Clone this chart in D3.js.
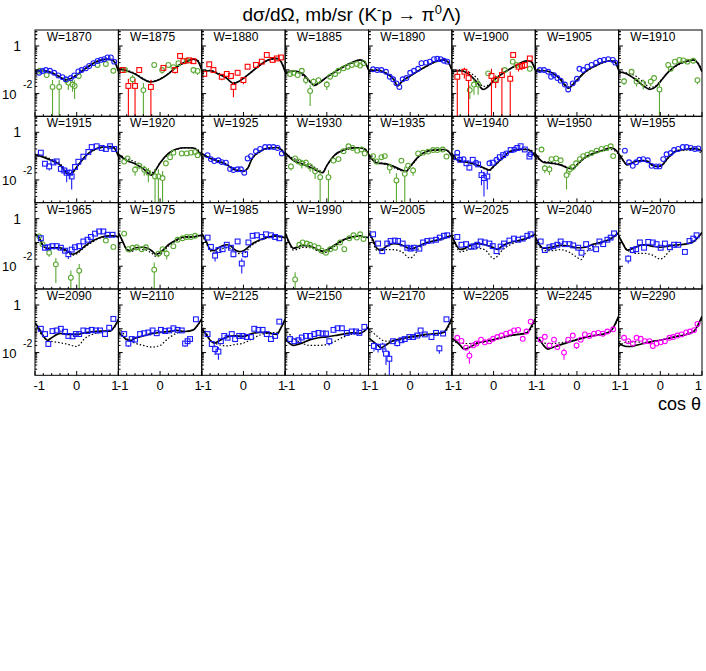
<!DOCTYPE html>
<html><head><meta charset="utf-8">
<script src="https://cdn.jsdelivr.net/npm/d3@7"></script>
<style>body{margin:0;background:#fff;} svg{display:block;font-family:"Liberation Sans",Arial,Helvetica,sans-serif;}</style>
</head><body><svg id="c" width="706" height="671"></svg>
<script>
const energies = [1870,1875,1880,1885,1890,1900,1905,1910,1915,1920,1925,1930,1935,1940,1950,1955,
                  1965,1975,1985,1990,2005,2025,2040,2070,2090,2110,2125,2150,2170,2205,2245,2290];
const xTickValues = [-1,-0.8,-0.6,-0.4,-0.2,0,0.2,0.4,0.6,0.8,1];
const xTickLabels = [[-1,"-1"],[0,"0"],[1,"1"]];
const yDomain = [0.00111, 4.7];

// solid curve (full model), [cos θ, dσ/dΩ mb/sr]
const solidCurves = {
1870:[[-1,0.083],[-0.8,0.091],[-0.6,0.075],[-0.4,0.049],[-0.28,0.037],[-0.15,0.042],[0,0.06],[0.2,0.11],[0.4,0.19],[0.6,0.26],[0.75,0.28],[0.85,0.26],[0.93,0.18],[1,0.088]],
1875:[[-1,0.115],[-0.8,0.091],[-0.6,0.067],[-0.4,0.04],[-0.25,0.031],[-0.1,0.034],[0,0.04],[0.2,0.067],[0.4,0.135],[0.6,0.21],[0.8,0.28],[0.9,0.24],[1,0.098]],
1880:[[-1,0.083],[-0.8,0.091],[-0.6,0.067],[-0.4,0.044],[-0.25,0.027],[-0.1,0.033],[0,0.044],[0.2,0.083],[0.4,0.16],[0.6,0.26],[0.8,0.3],[0.9,0.22],[1,0.083]],
1885:[[-1,0.071],[-0.9,0.083],[-0.8,0.091],[-0.6,0.071],[-0.4,0.032],[-0.3,0.022],[-0.2,0.027],[0,0.049],[0.2,0.083],[0.4,0.135],[0.6,0.2],[0.8,0.26],[0.9,0.22],[1,0.098]],
1890:[[-1,0.083],[-0.8,0.098],[-0.6,0.075],[-0.4,0.04],[-0.3,0.021],[-0.2,0.032],[0,0.055],[0.2,0.091],[0.4,0.145],[0.6,0.22],[0.8,0.26],[0.9,0.22],[1,0.098]],
1900:[[-1,0.083],[-0.8,0.091],[-0.6,0.067],[-0.4,0.03],[-0.25,0.015],[-0.1,0.022],[0,0.035],[0.2,0.067],[0.4,0.11],[0.6,0.175],[0.8,0.24],[0.9,0.22],[1,0.098]],
1905:[[-1,0.083],[-0.8,0.091],[-0.6,0.075],[-0.4,0.04],[-0.2,0.017],[-0.1,0.024],[0,0.037],[0.2,0.083],[0.4,0.135],[0.6,0.2],[0.8,0.24],[0.9,0.22],[1,0.098]],
1910:[[-1,0.083],[-0.8,0.067],[-0.6,0.04],[-0.4,0.021],[-0.25,0.015],[-0.1,0.02],[0,0.032],[0.2,0.083],[0.4,0.16],[0.6,0.22],[0.8,0.26],[0.9,0.19],[1,0.083]],
1915:[[-1,0.12],[-0.8,0.091],[-0.6,0.065],[-0.4,0.043],[-0.2,0.017],[-0.1,0.02],[0,0.034],[0.2,0.096],[0.4,0.18],[0.6,0.24],[0.8,0.25],[0.9,0.22],[1,0.1]],
1920:[[-1,0.12],[-0.8,0.065],[-0.6,0.048],[-0.4,0.029],[-0.2,0.016],[-0.1,0.027],[0,0.051],[0.2,0.13],[0.4,0.2],[0.6,0.225],[0.8,0.22],[0.9,0.17],[1,0.1]],
1925:[[-1,0.13],[-0.8,0.082],[-0.6,0.06],[-0.4,0.043],[-0.2,0.026],[0,0.023],[0.1,0.03],[0.2,0.075],[0.4,0.16],[0.6,0.22],[0.8,0.23],[0.9,0.19],[1,0.11]],
1930:[[-1,0.14],[-0.8,0.065],[-0.6,0.048],[-0.4,0.034],[-0.2,0.023],[-0.1,0.02],[0,0.04],[0.2,0.115],[0.4,0.18],[0.6,0.22],[0.8,0.22],[0.9,0.2],[1,0.13]],
1935:[[-1,0.12],[-0.9,0.07],[-0.8,0.051],[-0.6,0.048],[-0.4,0.037],[-0.2,0.026],[-0.1,0.023],[0,0.037],[0.2,0.096],[0.4,0.16],[0.6,0.18],[0.8,0.19],[0.9,0.17],[1,0.096]],
1940:[[-1,0.13],[-0.9,0.075],[-0.8,0.06],[-0.6,0.055],[-0.4,0.043],[-0.2,0.03],[-0.1,0.026],[0,0.037],[0.2,0.08],[0.4,0.16],[0.6,0.19],[0.8,0.19],[0.9,0.16],[1,0.096]],
1950:[[-1,0.13],[-0.9,0.075],[-0.8,0.055],[-0.6,0.05],[-0.4,0.043],[-0.2,0.031],[-0.1,0.029],[0,0.043],[0.2,0.09],[0.4,0.13],[0.6,0.17],[0.8,0.22],[0.9,0.2],[1,0.13]],
1955:[[-1,0.13],[-0.9,0.07],[-0.8,0.043],[-0.7,0.05],[-0.6,0.06],[-0.4,0.065],[-0.3,0.06],[-0.2,0.042],[-0.1,0.037],[0,0.038],[0.2,0.09],[0.4,0.17],[0.6,0.19],[0.8,0.21],[0.9,0.2],[1,0.16]],
1965:[[-1,0.235],[-0.9,0.16],[-0.8,0.071],[-0.7,0.057],[-0.6,0.06],[-0.4,0.06],[-0.2,0.041],[-0.1,0.032],[0,0.037],[0.2,0.071],[0.4,0.12],[0.6,0.17],[0.8,0.19],[0.9,0.19],[1,0.17]],
1975:[[-1,0.26],[-0.9,0.115],[-0.8,0.051],[-0.7,0.045],[-0.6,0.06],[-0.4,0.063],[-0.2,0.045],[-0.1,0.032],[0,0.037],[0.2,0.08],[0.4,0.13],[0.6,0.17],[0.8,0.17],[0.9,0.19],[1,0.2]],
1985:[[-1,0.235],[-0.9,0.12],[-0.8,0.051],[-0.7,0.045],[-0.6,0.06],[-0.4,0.08],[-0.3,0.07],[-0.2,0.048],[-0.1,0.041],[0,0.045],[0.2,0.085],[0.4,0.13],[0.6,0.17],[0.8,0.19],[0.9,0.17],[1,0.16]],
1990:[[-1,0.26],[-0.9,0.098],[-0.8,0.057],[-0.7,0.063],[-0.6,0.075],[-0.4,0.07],[-0.2,0.048],[-0.1,0.043],[0,0.048],[0.2,0.08],[0.4,0.13],[0.6,0.17],[0.8,0.19],[0.9,0.17],[1,0.16]],
2005:[[-1,0.26],[-0.9,0.135],[-0.8,0.057],[-0.7,0.047],[-0.6,0.063],[-0.4,0.089],[-0.2,0.078],[0,0.055],[0.1,0.058],[0.2,0.07],[0.4,0.1],[0.6,0.12],[0.8,0.15],[1,0.2]],
2025:[[-1,0.19],[-0.9,0.08],[-0.8,0.051],[-0.7,0.055],[-0.6,0.07],[-0.4,0.09],[-0.2,0.08],[0,0.06],[0.1,0.051],[0.2,0.07],[0.4,0.1],[0.6,0.12],[0.8,0.15],[1,0.22]],
2040:[[-1,0.17],[-0.9,0.08],[-0.8,0.057],[-0.6,0.063],[-0.4,0.075],[-0.2,0.07],[0,0.06],[0.2,0.063],[0.4,0.085],[0.6,0.105],[0.8,0.14],[1,0.26]],
2070:[[-1,0.19],[-0.9,0.09],[-0.8,0.048],[-0.7,0.052],[-0.6,0.063],[-0.4,0.08],[-0.2,0.07],[0,0.063],[0.2,0.07],[0.4,0.08],[0.6,0.085],[0.8,0.11],[0.9,0.16],[1,0.26]],
2090:[[-1,0.18],[-0.9,0.1],[-0.8,0.049],[-0.7,0.033],[-0.6,0.042],[-0.4,0.064],[-0.2,0.058],[0,0.058],[0.2,0.068],[0.4,0.077],[0.6,0.08],[0.8,0.08],[0.9,0.12],[1,0.25]],
2110:[[-1,0.068],[-0.9,0.05],[-0.8,0.035],[-0.7,0.033],[-0.6,0.04],[-0.4,0.05],[-0.2,0.063],[0,0.07],[0.2,0.077],[0.4,0.085],[0.6,0.077],[0.8,0.09],[0.9,0.14],[1,0.26]],
2125:[[-1,0.1],[-0.9,0.06],[-0.8,0.033],[-0.7,0.025],[-0.6,0.03],[-0.4,0.045],[-0.2,0.05],[0,0.048],[0.2,0.063],[0.4,0.07],[0.6,0.067],[0.8,0.058],[0.9,0.11],[1,0.25]],
2150:[[-1,0.038],[-0.9,0.025],[-0.8,0.02],[-0.7,0.022],[-0.6,0.025],[-0.4,0.035],[-0.2,0.042],[0,0.046],[0.2,0.052],[0.4,0.06],[0.6,0.067],[0.8,0.064],[0.9,0.08],[1,0.12]],
2170:[[-1,0.042],[-0.9,0.03],[-0.8,0.022],[-0.7,0.016],[-0.6,0.02],[-0.4,0.032],[-0.2,0.038],[0,0.046],[0.2,0.052],[0.4,0.058],[0.6,0.062],[0.8,0.07],[0.9,0.12],[1,0.29]],
2205:[[-1,0.038],[-0.9,0.03],[-0.8,0.02],[-0.7,0.014],[-0.6,0.016],[-0.4,0.024],[-0.2,0.03],[0,0.035],[0.2,0.043],[0.4,0.052],[0.6,0.058],[0.8,0.067],[0.9,0.12],[1,0.26]],
2245:[[-1,0.046],[-0.9,0.035],[-0.8,0.02],[-0.7,0.014],[-0.6,0.016],[-0.4,0.021],[-0.2,0.027],[0,0.035],[0.2,0.043],[0.4,0.052],[0.6,0.058],[0.8,0.077],[0.9,0.14],[1,0.33]],
2290:[[-1,0.026],[-0.9,0.02],[-0.8,0.018],[-0.7,0.018],[-0.6,0.02],[-0.4,0.024],[-0.2,0.029],[0,0.033],[0.2,0.04],[0.4,0.048],[0.6,0.056],[0.8,0.077],[0.9,0.14],[1,0.33]]
};

// dotted curve (alternative solution)
const dottedCurves = {
1870:[[-1,0.09],[-0.8,0.095],[-0.6,0.078],[-0.4,0.052],[-0.28,0.04],[-0.15,0.044],[0,0.062],[0.2,0.11],[0.4,0.18],[0.6,0.25],[0.75,0.27],[0.85,0.26],[0.93,0.19],[1,0.1]],
1875:[[-1,0.1],[-0.8,0.095],[-0.6,0.07],[-0.4,0.043],[-0.25,0.033],[-0.1,0.036],[0,0.042],[0.2,0.07],[0.4,0.13],[0.6,0.2],[0.8,0.27],[0.9,0.25],[1,0.12]],
1880:[[-1,0.09],[-0.8,0.095],[-0.6,0.072],[-0.4,0.046],[-0.25,0.029],[-0.1,0.034],[0,0.045],[0.2,0.082],[0.4,0.155],[0.6,0.25],[0.8,0.29],[0.9,0.23],[1,0.1]],
1885:[[-1,0.08],[-0.9,0.088],[-0.8,0.085],[-0.6,0.06],[-0.4,0.03],[-0.3,0.023],[-0.2,0.028],[0,0.05],[0.2,0.085],[0.4,0.13],[0.6,0.19],[0.8,0.25],[0.9,0.22],[1,0.11]],
1890:[[-1,0.09],[-0.8,0.1],[-0.6,0.078],[-0.4,0.042],[-0.3,0.023],[-0.2,0.033],[0,0.056],[0.2,0.09],[0.4,0.14],[0.6,0.21],[0.8,0.25],[0.9,0.22],[1,0.11]],
1900:[[-1,0.09],[-0.8,0.1],[-0.6,0.08],[-0.4,0.045],[-0.25,0.02],[-0.1,0.024],[0,0.036],[0.2,0.067],[0.4,0.11],[0.6,0.17],[0.8,0.23],[0.9,0.22],[1,0.11]],
1905:[[-1,0.09],[-0.8,0.095],[-0.6,0.078],[-0.4,0.043],[-0.2,0.019],[-0.1,0.025],[0,0.038],[0.2,0.08],[0.4,0.13],[0.6,0.19],[0.8,0.23],[0.9,0.22],[1,0.11]],
1910:[[-1,0.083],[-0.8,0.075],[-0.6,0.055],[-0.4,0.03],[-0.25,0.018],[-0.1,0.022],[0,0.034],[0.2,0.08],[0.4,0.15],[0.6,0.21],[0.8,0.25],[0.9,0.2],[1,0.1]],
1915:[[-1,0.11],[-0.8,0.1],[-0.6,0.072],[-0.4,0.048],[-0.2,0.02],[-0.1,0.022],[0,0.036],[0.2,0.095],[0.4,0.17],[0.6,0.23],[0.8,0.25],[0.9,0.22],[1,0.11]],
1920:[[-1,0.11],[-0.8,0.08],[-0.6,0.058],[-0.4,0.037],[-0.2,0.02],[-0.1,0.03],[0,0.052],[0.2,0.12],[0.4,0.19],[0.6,0.22],[0.8,0.22],[0.9,0.19],[1,0.13]],
1925:[[-1,0.12],[-0.8,0.088],[-0.6,0.065],[-0.4,0.046],[-0.2,0.028],[0,0.024],[0.1,0.031],[0.2,0.072],[0.4,0.15],[0.6,0.21],[0.8,0.23],[0.9,0.2],[1,0.13]],
1930:[[-1,0.13],[-0.8,0.08],[-0.6,0.06],[-0.4,0.042],[-0.2,0.027],[-0.1,0.022],[0,0.04],[0.2,0.11],[0.4,0.17],[0.6,0.21],[0.8,0.22],[0.9,0.21],[1,0.16]],
1935:[[-1,0.1],[-0.9,0.075],[-0.8,0.06],[-0.6,0.045],[-0.4,0.033],[-0.2,0.024],[-0.1,0.022],[0,0.034],[0.2,0.09],[0.4,0.15],[0.6,0.18],[0.8,0.18],[0.9,0.16],[1,0.12]],
1940:[[-1,0.12],[-0.9,0.08],[-0.8,0.065],[-0.6,0.052],[-0.4,0.04],[-0.2,0.028],[-0.1,0.025],[0,0.035],[0.2,0.075],[0.4,0.15],[0.6,0.19],[0.8,0.2],[0.9,0.18],[1,0.12]],
1950:[[-1,0.1],[-0.9,0.07],[-0.8,0.06],[-0.6,0.055],[-0.4,0.045],[-0.2,0.033],[-0.1,0.03],[0,0.042],[0.2,0.085],[0.4,0.13],[0.6,0.16],[0.8,0.19],[0.9,0.17],[1,0.12]],
1955:[[-1,0.12],[-0.9,0.068],[-0.8,0.045],[-0.7,0.05],[-0.6,0.058],[-0.4,0.062],[-0.3,0.057],[-0.2,0.042],[-0.1,0.036],[0,0.037],[0.2,0.085],[0.4,0.16],[0.6,0.18],[0.8,0.19],[0.9,0.17],[1,0.13]],
1965:[[-1,0.2],[-0.9,0.14],[-0.8,0.07],[-0.7,0.055],[-0.6,0.055],[-0.4,0.052],[-0.2,0.036],[-0.1,0.029],[0,0.033],[0.2,0.065],[0.4,0.11],[0.6,0.16],[0.8,0.18],[0.9,0.18],[1,0.17]],
1975:[[-1,0.24],[-0.9,0.11],[-0.8,0.05],[-0.7,0.04],[-0.6,0.05],[-0.4,0.05],[-0.2,0.035],[-0.1,0.026],[0,0.03],[0.2,0.07],[0.4,0.12],[0.6,0.16],[0.8,0.17],[0.9,0.18],[1,0.2]],
1985:[[-1,0.2],[-0.9,0.1],[-0.8,0.045],[-0.7,0.036],[-0.6,0.045],[-0.4,0.06],[-0.3,0.055],[-0.2,0.04],[-0.1,0.034],[0,0.035],[0.2,0.075],[0.4,0.12],[0.6,0.16],[0.8,0.18],[0.9,0.17],[1,0.17]],
1990:[[-1,0.24],[-0.9,0.09],[-0.8,0.048],[-0.7,0.052],[-0.6,0.062],[-0.4,0.06],[-0.2,0.042],[-0.1,0.035],[0,0.04],[0.2,0.072],[0.4,0.12],[0.6,0.16],[0.8,0.18],[0.9,0.17],[1,0.16]],
2005:[[-1,0.24],[-0.9,0.11],[-0.8,0.046],[-0.7,0.045],[-0.6,0.05],[-0.4,0.05],[-0.2,0.04],[0,0.022],[0.1,0.03],[0.2,0.055],[0.4,0.09],[0.6,0.115],[0.8,0.14],[1,0.19]],
2025:[[-1,0.19],[-0.9,0.07],[-0.8,0.04],[-0.6,0.05],[-0.4,0.058],[-0.2,0.048],[0,0.021],[0.1,0.027],[0.2,0.045],[0.4,0.08],[0.6,0.11],[0.8,0.14],[1,0.2]],
2040:[[-1,0.17],[-0.9,0.07],[-0.8,0.045],[-0.6,0.045],[-0.4,0.05],[-0.2,0.04],[0,0.024],[0.1,0.019],[0.2,0.035],[0.4,0.07],[0.6,0.1],[0.8,0.13],[1,0.25]],
2070:[[-1,0.19],[-0.9,0.09],[-0.8,0.05],[-0.6,0.035],[-0.4,0.035],[-0.2,0.03],[0,0.02],[0.1,0.025],[0.2,0.04],[0.4,0.07],[0.6,0.085],[0.8,0.11],[0.9,0.16],[1,0.26]],
2090:[[-1,0.16],[-0.9,0.08],[-0.8,0.045],[-0.6,0.03],[-0.4,0.026],[-0.2,0.022],[0,0.018],[0.2,0.04],[0.4,0.06],[0.6,0.075],[0.8,0.085],[0.9,0.11],[1,0.22]],
2110:[[-1,0.11],[-0.9,0.07],[-0.8,0.04],[-0.6,0.025],[-0.4,0.02],[-0.2,0.017],[0,0.02],[0.2,0.04],[0.4,0.065],[0.6,0.077],[0.8,0.09],[0.9,0.14],[1,0.26]],
2125:[[-1,0.15],[-0.9,0.07],[-0.8,0.035],[-0.6,0.022],[-0.4,0.019],[-0.2,0.022],[0,0.025],[0.2,0.037],[0.4,0.055],[0.6,0.067],[0.8,0.07],[0.9,0.11],[1,0.22]],
2150:[[-1,0.1],[-0.9,0.06],[-0.8,0.04],[-0.6,0.025],[-0.4,0.02],[-0.2,0.02],[0,0.022],[0.2,0.03],[0.4,0.045],[0.6,0.06],[0.8,0.065],[0.9,0.08],[1,0.12]],
2170:[[-1,0.1],[-0.9,0.07],[-0.8,0.05],[-0.6,0.03],[-0.4,0.03],[-0.2,0.035],[0,0.042],[0.2,0.048],[0.4,0.055],[0.6,0.06],[0.8,0.068],[0.9,0.1],[1,0.25]],
2205:[[-1,0.03],[-0.8,0.025],[-0.6,0.024],[-0.4,0.026],[-0.2,0.028],[0,0.032],[0.2,0.04],[0.4,0.05],[0.6,0.06],[0.8,0.07],[0.9,0.1],[1,0.2]],
2245:[[-1,0.04],[-0.8,0.025],[-0.6,0.024],[-0.4,0.026],[-0.2,0.03],[0,0.036],[0.2,0.043],[0.4,0.05],[0.6,0.058],[0.8,0.075],[0.9,0.13],[1,0.3]],
2290:[[-1,0.018],[-0.9,0.024],[-0.8,0.028],[-0.6,0.028],[-0.4,0.027],[-0.2,0.029],[0,0.033],[0.2,0.04],[0.4,0.048],[0.6,0.058],[0.8,0.075],[0.9,0.12],[1,0.28]]
};

// data points: [cos θ, dσ/dΩ, error]
const blueCircles = {
1870:[[-0.9,0.075,0.008],[-0.82,0.089,0.008],[-0.74,0.098,0.008],[-0.64,0.091,0.008],[-0.54,0.075,0.008],[-0.44,0.058,0.007],[-0.34,0.049,0.006],[-0.26,0.04,0.005],[-0.14,0.045,0.005],[-0.06,0.058,0.006],[0.04,0.086,0.008],[0.12,0.098,0.008],[0.22,0.115,0.01],[0.3,0.145,0.01],[0.4,0.19,0.012],[0.5,0.235,0.015],[0.58,0.26,0.015],[0.66,0.28,0.015],[0.74,0.33,0.02],[0.82,0.33,0.02],[0.9,0.22,0.02]],
1890:[[-0.89,0.105,0.008],[-0.79,0.098,0.008],[-0.69,0.098,0.008],[-0.58,0.083,0.008],[-0.49,0.051,0.006],[-0.41,0.04,0.005],[-0.33,0.027,0.004],[-0.26,0.019,0.004],[-0.18,0.04,0.005],[-0.09,0.045,0.005],[0,0.075,0.007],[0.09,0.091,0.008],[0.19,0.11,0.01],[0.27,0.19,0.012],[0.38,0.2,0.012],[0.47,0.22,0.013],[0.57,0.28,0.015],[0.65,0.29,0.015],[0.73,0.28,0.015],[0.81,0.24,0.015],[0.89,0.22,0.015]],
1905:[[-0.89,0.098,0.008],[-0.79,0.098,0.008],[-0.69,0.083,0.008],[-0.62,0.051,0.006],[-0.55,0.06,0.006],[-0.47,0.045,0.005],[-0.39,0.035,0.005],[-0.29,0.024,0.004],[-0.21,0.015,0.004],[-0.1,0.027,0.004],[0,0.042,0.005],[0.06,0.11,0.009],[0.15,0.098,0.008],[0.25,0.135,0.01],[0.35,0.16,0.01],[0.46,0.2,0.012],[0.55,0.24,0.013],[0.65,0.26,0.014],[0.75,0.28,0.015],[0.86,0.26,0.015],[0.92,0.2,0.014]],
1925:[[-0.86,0.11,0.008],[-0.78,0.075,0.007],[-0.7,0.062,0.006],[-0.6,0.067,0.006],[-0.52,0.056,0.006],[-0.42,0.053,0.006],[-0.32,0.029,0.004],[-0.24,0.026,0.004],[-0.14,0.028,0.004],[-0.06,0.028,0.004],[0.02,0.02,0.004],[0.1,0.08,0.007],[0.18,0.1,0.008],[0.3,0.16,0.01],[0.4,0.2,0.012],[0.52,0.24,0.013],[0.62,0.24,0.013],[0.72,0.24,0.013],[0.82,0.22,0.013],[0.92,0.13,0.01]],
1940:[[-0.87,0.14,0.015],[-0.72,0.075,0.01],[-0.42,0.053,0.01],[-0.1,0.05,0.01],[0.07,0.07,0.01],[0.3,0.13,0.015],[0.5,0.19,0.015],[0.88,0.12,0.015]],
1955:[[-0.85,0.17,0.01],[-0.75,0.055,0.006],[-0.66,0.039,0.005],[-0.58,0.055,0.006],[-0.5,0.07,0.006],[-0.41,0.075,0.006],[-0.3,0.067,0.006],[-0.21,0.039,0.005],[-0.1,0.037,0.005],[-0.02,0.037,0.005],[0.07,0.075,0.007],[0.15,0.12,0.009],[0.25,0.135,0.01],[0.33,0.18,0.011],[0.43,0.2,0.012],[0.54,0.24,0.013],[0.63,0.24,0.013],[0.73,0.22,0.013],[0.83,0.2,0.012],[0.91,0.21,0.013]]
};
const blueSquares = {
1915:[[-0.86,0.14,0.015],[-0.76,0.048,0.01],[-0.66,0.037,0.012],[-0.56,0.054,0.01],[-0.48,0.06,0.01],[-0.38,0.029,0.008],[-0.3,0.025,0.008],[-0.24,0.02,0.012],[-0.16,0.02,0.008],[-0.12,0.014,0.01],[-0.04,0.035,0.008],[0.04,0.058,0.01],[0.16,0.095,0.012],[0.28,0.15,0.015],[0.36,0.24,0.02],[0.48,0.26,0.02],[0.6,0.22,0.02],[0.7,0.2,0.02],[0.8,0.26,0.02],[0.9,0.2,0.02]],
1940:[[-0.88,0.09,0.012],[-0.8,0.07,0.01],[-0.65,0.05,0.01],[-0.58,0.033,0.008],[-0.5,0.07,0.01],[-0.37,0.045,0.008],[-0.29,0.016,0.01],[-0.23,0.012,0.01],[-0.15,0.014,0.01],[-0.02,0.053,0.01],[0.15,0.09,0.012],[0.23,0.11,0.012],[0.41,0.18,0.015],[0.57,0.22,0.02],[0.65,0.26,0.02],[0.75,0.19,0.015],[0.86,0.096,0.015]],
1965:[[-0.86,0.15,0.015],[-0.76,0.06,0.008],[-0.68,0.063,0.008],[-0.58,0.07,0.008],[-0.48,0.07,0.008],[-0.38,0.06,0.008],[-0.28,0.045,0.007],[-0.2,0.032,0.012],[-0.12,0.05,0.008],[-0.04,0.063,0.008],[0.06,0.07,0.008],[0.16,0.11,0.01],[0.26,0.13,0.01],[0.34,0.17,0.012],[0.44,0.235,0.015],[0.54,0.29,0.018],[0.64,0.29,0.018],[0.74,0.21,0.015],[0.86,0.21,0.015]],
1985:[[-0.86,0.16,0.015],[-0.78,0.065,0.01],[-0.68,0.028,0.012],[-0.6,0.048,0.01],[-0.5,0.052,0.01],[-0.4,0.08,0.01],[-0.3,0.06,0.01],[-0.24,0.032,0.008],[-0.14,0.11,0.012],[-0.04,0.013,0.008],[0.04,0.032,0.01],[0.12,0.1,0.012],[0.22,0.19,0.015],[0.32,0.2,0.015],[0.44,0.17,0.015],[0.54,0.22,0.015],[0.66,0.2,0.015],[0.76,0.17,0.015],[0.86,0.15,0.015]],
2005:[[-0.89,0.22,0.02],[-0.77,0.09,0.01],[-0.67,0.043,0.006],[-0.55,0.09,0.01],[-0.47,0.115,0.01],[-0.37,0.12,0.01],[-0.29,0.115,0.01],[-0.18,0.09,0.009],[-0.07,0.06,0.007],[0.01,0.055,0.007],[0.09,0.06,0.007],[0.22,0.055,0.007],[0.31,0.1,0.01],[0.41,0.115,0.01],[0.51,0.12,0.01],[0.62,0.13,0.01],[0.71,0.16,0.012],[0.81,0.19,0.014],[0.89,0.2,0.015]],
2025:[[-0.87,0.17,0.015],[-0.77,0.08,0.008],[-0.66,0.085,0.008],[-0.55,0.067,0.007],[-0.47,0.067,0.007],[-0.39,0.08,0.008],[-0.31,0.11,0.01],[-0.21,0.1,0.009],[-0.1,0.09,0.009],[-0.02,0.07,0.008],[0.07,0.043,0.006],[0.17,0.067,0.007],[0.25,0.09,0.009],[0.38,0.12,0.01],[0.49,0.145,0.012],[0.59,0.13,0.011],[0.7,0.145,0.012],[0.81,0.19,0.014],[0.89,0.22,0.016]],
2040:[[-0.87,0.11,0.01],[-0.77,0.048,0.006],[-0.66,0.063,0.007],[-0.57,0.07,0.007],[-0.47,0.08,0.008],[-0.39,0.11,0.01],[-0.29,0.085,0.008],[-0.18,0.085,0.008],[-0.09,0.075,0.008],[0.03,0.06,0.007],[0.11,0.037,0.008],[0.22,0.085,0.008],[0.33,0.06,0.007],[0.46,0.052,0.007],[0.54,0.11,0.01],[0.63,0.085,0.008],[0.73,0.13,0.011],[0.81,0.16,0.013],[0.89,0.24,0.018]],
2070:[[-0.77,0.021,0.008],[-0.66,0.048,0.008],[-0.58,0.052,0.007],[-0.49,0.1,0.009],[-0.39,0.06,0.008],[-0.29,0.105,0.01],[-0.18,0.1,0.009],[-0.09,0.085,0.008],[0.01,0.06,0.007],[0.11,0.09,0.009],[0.23,0.063,0.007],[0.33,0.08,0.008],[0.43,0.08,0.008],[0.59,0.04,0.008],[0.7,0.115,0.01],[0.79,0.145,0.012],[0.87,0.2,0.015]],
2090:[[-0.86,0.1,0.01],[-0.76,0.06,0.008],[-0.68,0.023,0.006],[-0.58,0.08,0.008],[-0.48,0.085,0.008],[-0.38,0.1,0.009],[-0.28,0.075,0.008],[-0.2,0.05,0.007],[-0.1,0.048,0.007],[-0.02,0.06,0.007],[0.06,0.06,0.007],[0.16,0.085,0.008],[0.26,0.08,0.008],[0.36,0.09,0.009],[0.46,0.085,0.008],[0.56,0.085,0.008],[0.68,0.06,0.008],[0.78,0.11,0.01],[0.88,0.26,0.02]],
2110:[[-0.86,0.06,0.008],[-0.76,0.024,0.007],[-0.68,0.037,0.007],[-0.6,0.035,0.006],[-0.48,0.06,0.007],[-0.38,0.065,0.007],[-0.28,0.07,0.007],[-0.18,0.085,0.008],[-0.08,0.065,0.007],[0.02,0.09,0.008],[0.12,0.08,0.008],[0.22,0.085,0.008],[0.32,0.105,0.009],[0.42,0.09,0.008],[0.52,0.085,0.008],[0.6,0.024,0.007],[0.66,0.03,0.007],[0.72,0.037,0.007],[0.86,0.25,0.02]],
2125:[[-0.86,0.06,0.008],[-0.76,0.023,0.006],[-0.68,0.014,0.006],[-0.6,0.011,0.006],[-0.54,0.03,0.006],[-0.46,0.05,0.007],[-0.38,0.042,0.007],[-0.28,0.06,0.007],[-0.2,0.037,0.01],[-0.1,0.05,0.007],[-0.02,0.05,0.007],[0.08,0.045,0.007],[0.18,0.045,0.007],[0.26,0.1,0.009],[0.36,0.09,0.008],[0.46,0.09,0.008],[0.56,0.06,0.007],[0.66,0.037,0.007],[0.76,0.05,0.007],[0.86,0.2,0.016]],
2150:[[-0.88,0.037,0.006],[-0.78,0.03,0.006],[-0.68,0.033,0.006],[-0.6,0.043,0.006],[-0.5,0.05,0.007],[-0.4,0.05,0.007],[-0.3,0.06,0.007],[-0.2,0.067,0.007],[-0.1,0.063,0.007],[-0.02,0.063,0.007],[0.06,0.03,0.01],[0.16,0.09,0.008],[0.26,0.105,0.009],[0.36,0.105,0.009],[0.48,0.067,0.007],[0.6,0.077,0.008],[0.7,0.077,0.008],[0.78,0.067,0.007],[0.9,0.12,0.012]],
2170:[[-0.87,0.019,0.008],[-0.77,0.017,0.007],[-0.66,0.018,0.008],[-0.58,0.009,0.006],[-0.5,0.0055,0.0055],[-0.41,0.03,0.007],[-0.31,0.025,0.007],[-0.21,0.033,0.006],[-0.13,0.037,0.006],[-0.02,0.045,0.006],[0.07,0.045,0.006],[0.17,0.052,0.006],[0.25,0.085,0.008],[0.35,0.058,0.007],[0.51,0.045,0.007],[0.62,0.067,0.007],[0.7,0.015,0.006],[0.79,0.063,0.007],[0.87,0.25,0.02]]
};
const greenCircles = {
1870:[[-0.88,0.091,0.01],[-0.72,0.06,0.015],[-0.58,0.019,0.018],[-0.42,0.019,0.018],[-0.25,0.037,0.012],[-0.2,0.029,0.015],[-0.1,0.024,0.012],[-0.05,0.021,0.015],[0.05,0.055,0.015],[0.5,0.16,0.02],[0.7,0.175,0.03],[0.88,0.091,0.02]],
1875:[[-0.84,0.098,0.02],[-0.66,0.04,0.02],[-0.4,0.014,0.014],[-0.14,0.16,0.03],[0.05,0.098,0.03],[0.2,0.16,0.03],[0.32,0.13,0.03],[0.44,0.19,0.03],[0.64,0.24,0.03],[0.8,0.098,0.03],[0.9,0.09,0.03]],
1885:[[-0.88,0.067,0.01],[-0.8,0.075,0.012],[-0.7,0.06,0.012],[-0.6,0.091,0.015],[-0.5,0.037,0.012],[-0.4,0.013,0.01],[-0.32,0.032,0.012],[-0.2,0.037,0.012],[0,0.024,0.01],[0.08,0.051,0.012],[0.2,0.067,0.012],[0.28,0.091,0.012],[0.4,0.115,0.015],[0.5,0.135,0.015],[0.6,0.16,0.015],[0.72,0.175,0.02],[0.8,0.15,0.02],[0.88,0.19,0.02]],
1900:[[-0.57,0.014,0.008],[-0.47,0.024,0.015],[-0.37,0.024,0.015],[-0.13,0.071,0.015],[0.07,0.041,0.012],[0.27,0.098,0.02],[0.46,0.22,0.03],[0.55,0.16,0.03],[0.87,0.11,0.02]],
1910:[[-0.87,0.033,0.01],[-0.69,0.083,0.015],[-0.57,0.032,0.012],[-0.41,0.027,0.012],[-0.23,0.032,0.012],[-0.15,0.045,0.012],[-0.02,0.015,0.015],[0.19,0.16,0.025],[0.25,0.11,0.02],[0.35,0.22,0.025],[0.46,0.26,0.025],[0.55,0.25,0.025],[0.65,0.22,0.025],[0.79,0.24,0.025],[0.89,0.037,0.012]],
1920:[[-0.86,0.059,0.012],[-0.78,0.08,0.015],[-0.6,0.027,0.012],[-0.5,0.04,0.012],[-0.38,0.027,0.012],[-0.28,0.02,0.012],[-0.12,0.014,0.014],[-0.04,0.014,0.014],[0.06,0.012,0.012],[0.14,0.05,0.012],[0.24,0.09,0.015],[0.32,0.14,0.02],[0.52,0.13,0.015],[0.64,0.13,0.015],[0.74,0.14,0.015],[0.84,0.15,0.015],[0.9,0.11,0.015]],
1930:[[-0.86,0.037,0.012],[-0.76,0.08,0.015],[-0.68,0.06,0.015],[-0.6,0.05,0.02],[-0.5,0.053,0.02],[-0.4,0.037,0.015],[-0.28,0.023,0.012],[-0.16,0.013,0.013],[0.04,0.013,0.013],[0.16,0.065,0.015],[0.28,0.075,0.015],[0.4,0.16,0.02],[0.52,0.26,0.025],[0.62,0.22,0.02],[0.73,0.17,0.02],[0.83,0.19,0.02],[0.91,0.13,0.015]],
1935:[[-0.89,0.1,0.015],[-0.81,0.06,0.015],[-0.69,0.09,0.015],[-0.61,0.1,0.015],[-0.49,0.033,0.015],[-0.33,0.0095,0.0095],[-0.21,0.065,0.012],[-0.13,0.018,0.018],[-0.05,0.04,0.012],[0.07,0.025,0.01],[0.19,0.13,0.015],[0.31,0.14,0.015],[0.43,0.155,0.015],[0.55,0.18,0.015],[0.65,0.18,0.015],[0.78,0.19,0.015],[0.87,0.096,0.015]],
1950:[[-0.85,0.19,0.02],[-0.77,0.031,0.012],[-0.66,0.028,0.012],[-0.61,0.075,0.012],[-0.5,0.08,0.012],[-0.39,0.067,0.015],[-0.25,0.016,0.012],[-0.17,0.028,0.012],[-0.1,0.035,0.01],[-0.02,0.05,0.01],[0.07,0.075,0.01],[0.15,0.1,0.012],[0.25,0.115,0.012],[0.35,0.135,0.012],[0.47,0.17,0.015],[0.59,0.2,0.015],[0.71,0.22,0.015],[0.81,0.26,0.02],[0.87,0.1,0.015]],
1965:[[-0.9,0.18,0.02],[-0.82,0.085,0.015],[-0.66,0.037,0.012],[-0.5,0.012,0.01],[-0.14,0.0033,0.0033],[0.06,0.0065,0.006],[0.7,0.12,0.015],[0.88,0.065,0.012]],
1975:[[-0.86,0.235,0.03],[-0.76,0.052,0.012],[-0.66,0.06,0.01],[-0.56,0.063,0.01],[-0.44,0.052,0.01],[-0.34,0.063,0.01],[-0.14,0.0072,0.0072],[-0.04,0.034,0.01],[0.06,0.052,0.01],[0.16,0.034,0.015],[0.32,0.07,0.012],[0.42,0.13,0.015],[0.54,0.15,0.015],[0.64,0.17,0.015],[0.74,0.17,0.015],[0.84,0.19,0.015]],
1990:[[-0.76,0.0028,0.0028],[-0.66,0.08,0.01],[-0.58,0.1,0.01],[-0.48,0.09,0.01],[-0.4,0.08,0.01],[-0.3,0.07,0.01],[-0.2,0.06,0.01],[-0.12,0.045,0.008],[-0.02,0.037,0.008],[0.08,0.052,0.01],[0.2,0.06,0.01],[0.32,0.1,0.012],[0.42,0.052,0.012],[0.54,0.15,0.015],[0.64,0.2,0.015],[0.72,0.16,0.015],[0.8,0.22,0.015],[0.88,0.14,0.015]]
};
const redSquares = {
1875:[[-0.9,0.098,0.015],[-0.76,0.021,0.021],[-0.6,0.021,0.021],[-0.5,0.098,0.02],[-0.22,0.019,0.019],[0.08,0.12,0.03],[0.36,0.098,0.03],[0.48,0.38,0.05],[0.56,0.23,0.04],[0.7,0.25,0.04],[0.8,0.23,0.04]],
1880:[[-0.94,0.067,0.015],[-0.82,0.17,0.03],[-0.72,0.098,0.02],[-0.52,0.051,0.015],[-0.4,0.067,0.015],[-0.3,0.055,0.015],[-0.24,0.019,0.012],[-0.14,0.075,0.02],[0,0.037,0.012],[0.1,0.135,0.03],[0.3,0.16,0.03],[0.44,0.22,0.03],[0.56,0.42,0.05],[0.7,0.26,0.04],[0.8,0.3,0.04],[0.9,0.33,0.04]],
1900:[[-0.87,0.051,0.051],[-0.7,0.083,0.04],[-0.6,0.045,0.045],[-0.05,0.055,0.055],[0.05,0.037,0.02],[0.2,0.06,0.06],[0.4,0.042,0.042],[0.47,0.42,0.08],[0.6,0.135,0.05],[0.68,0.145,0.05],[0.75,0.16,0.05],[0.87,0.3,0.06]]
};
const magentaCircles = {
2205:[[-0.87,0.042,0.005],[-0.77,0.031,0.004],[-0.66,0.016,0.003],[-0.58,0.0074,0.004],[-0.49,0.02,0.004],[-0.41,0.024,0.004],[-0.3,0.035,0.004],[-0.21,0.027,0.004],[-0.1,0.03,0.004],[-0.01,0.038,0.004],[0.09,0.045,0.005],[0.19,0.052,0.005],[0.3,0.062,0.006],[0.4,0.07,0.006],[0.49,0.085,0.007],[0.59,0.09,0.007],[0.7,0.038,0.005],[0.79,0.077,0.007],[0.89,0.2,0.015]],
2245:[[-0.87,0.035,0.005],[-0.77,0.046,0.005],[-0.66,0.02,0.004],[-0.55,0.035,0.005],[-0.47,0.017,0.004],[-0.31,0.01,0.005],[-0.21,0.035,0.005],[-0.1,0.052,0.005],[-0.01,0.02,0.006],[0.09,0.035,0.005],[0.19,0.058,0.006],[0.3,0.05,0.005],[0.41,0.062,0.006],[0.51,0.067,0.006],[0.62,0.062,0.006],[0.73,0.077,0.007],[0.87,0.095,0.008]],
2290:[[-0.87,0.042,0.005],[-0.77,0.03,0.004],[-0.66,0.024,0.004],[-0.57,0.042,0.005],[-0.47,0.038,0.004],[-0.37,0.03,0.004],[-0.26,0.03,0.004],[-0.18,0.019,0.004],[-0.09,0.024,0.004],[0.01,0.027,0.004],[0.11,0.03,0.004],[0.22,0.042,0.005],[0.31,0.045,0.005],[0.41,0.052,0.005],[0.51,0.058,0.006],[0.62,0.07,0.006],[0.71,0.077,0.007],[0.81,0.088,0.007],[0.89,0.16,0.012]]
};

const seriesStyles = [
  {data: greenCircles, color: "#5aa832", shape: "circle"},
  {data: redSquares, color: "#ff0000", shape: "square"},
  {data: blueCircles, color: "#1a1aff", shape: "circle"},
  {data: blueSquares, color: "#1a1aff", shape: "square"},
  {data: magentaCircles, color: "#ff00ff", shape: "circle"}
];

const svg = d3.select("#c");
const L = 35, R = 702, T = 30, B = 375.3, nCols = 8, nRows = 4;
const pw = (R - L) / nCols, ph = (B - T) / nRows;
const x = d3.scaleLinear().domain([-1, 1]).range([0, pw]);
const y = d3.scaleLog().domain(yDomain).range([ph, 0]);
const line = d3.line().x(d => x(d[0])).y(d => y(d[1])).curve(d3.curveMonotoneX);
const defs = svg.append("defs");
const mr = 2.4;

energies.forEach((W, i) => {
  const col = i % nCols, row = Math.floor(i / nCols);
  const g = svg.append("g").attr("transform", `translate(${L + col * pw},${T + row * ph})`);
  defs.append("clipPath").attr("id", "cp" + i).append("rect").attr("width", pw).attr("height", ph);
  const inner = g.append("g").attr("clip-path", `url(#cp${i})`);

  inner.append("path").datum(dottedCurves[W]).attr("d", line)
    .attr("fill", "none").attr("stroke", "#000").attr("stroke-width", 1.2).attr("stroke-dasharray", "1.5,2");
  inner.append("path").datum(solidCurves[W]).attr("d", line)
    .attr("fill", "none").attr("stroke", "#000").attr("stroke-width", 1.7);

  seriesStyles.forEach(s => {
    const pts = s.data[W];
    if (!pts) return;
    pts.forEach(p => {
      const cx = x(p[0]), cy = y(p[1]);
      const yHi = y(p[1] + p[2]);
      const yLo = y(Math.max(p[1] - p[2], yDomain[0]));
      if (yHi < cy - mr) inner.append("line").attr("x1", cx).attr("x2", cx).attr("y1", cy - mr).attr("y2", yHi)
        .attr("stroke", s.color).attr("stroke-width", 1.1);
      if (yLo > cy + mr) inner.append("line").attr("x1", cx).attr("x2", cx).attr("y1", cy + mr).attr("y2", yLo)
        .attr("stroke", s.color).attr("stroke-width", 1.1);
      if (s.shape === "circle") {
        inner.append("circle").attr("cx", cx).attr("cy", cy).attr("r", mr)
          .attr("fill", "none").attr("stroke", s.color).attr("stroke-width", 1.1);
      } else {
        inner.append("rect").attr("x", cx - mr).attr("y", cy - mr).attr("width", 2 * mr).attr("height", 2 * mr)
          .attr("fill", "none").attr("stroke", s.color).attr("stroke-width", 1.1);
      }
    });
  });

  // frame
  g.append("rect").attr("width", pw).attr("height", ph).attr("fill", "none").attr("stroke", "#000").attr("stroke-width", 1);

  // y ticks (log)
  for (let d = -3; d <= 0; d++) {
    for (let k = 1; k <= 9; k++) {
      const v = k * Math.pow(10, d);
      if (v < yDomain[0] || v > yDomain[1]) continue;
      const len = k === 1 ? 4.3 : 2.2;
      g.append("line").attr("x1", 0).attr("x2", len).attr("y1", y(v)).attr("y2", y(v))
        .attr("stroke", "#000").attr("stroke-width", 1);
    }
  }
  for (let k = 2; k <= 4; k++) {
    g.append("line").attr("x1", 0).attr("x2", 2.2).attr("y1", y(k)).attr("y2", y(k)).attr("stroke", "#000");
  }
  // x ticks
  xTickValues.forEach(v => {
    const len = (v === 0 || v === -1 || v === 1) ? 4.3 : 2.2;
    g.append("line").attr("x1", x(v)).attr("x2", x(v)).attr("y1", ph).attr("y2", ph - len)
      .attr("stroke", "#000").attr("stroke-width", 1);
  });

  // panel label
  g.append("text").attr("x", 11.7).attr("y", 11).attr("font-size", 12).text("W=" + W);

  if (col === 0) {
    g.append("text").attr("x", -14).attr("y", y(1) + 5).attr("font-size", 14).attr("text-anchor", "end").text("1");
    g.append("text").attr("x", -33).attr("y", y(0.01) + 5).attr("font-size", 13).attr("text-anchor", "start").text("10");
    g.append("text").attr("x", -12).attr("y", y(0.01) - 6).attr("font-size", 10.5).text("-2");
  }
  if (row === nRows - 1) {
    xTickLabels.forEach(([v, t]) => {
      g.append("text").attr("x", x(v) + (v === -1 ? -1.5 : 0)).attr("y", ph + 15)
        .attr("font-size", 13).attr("text-anchor", v === -1 ? "start" : v === 1 ? "end" : "middle").text(t);
    });
  }
});

// title
const title = svg.append("text").attr("x", 351.7).attr("y", 21).attr("font-size", 19).attr("text-anchor", "middle");
title.append("tspan").text("dσ/dΩ, mb/sr (K");
title.append("tspan").attr("dy", -7).attr("font-size", 13).text("-");
title.append("tspan").attr("dy", 7).text("p → π");
title.append("tspan").attr("dy", -7).attr("font-size", 13).text("0");
title.append("tspan").attr("dy", 7).text("Λ)");

// x axis title
svg.append("text").attr("x", 701).attr("y", 410).attr("font-size", 18).attr("text-anchor", "end").text("cos θ");
</script>
</body></html>
